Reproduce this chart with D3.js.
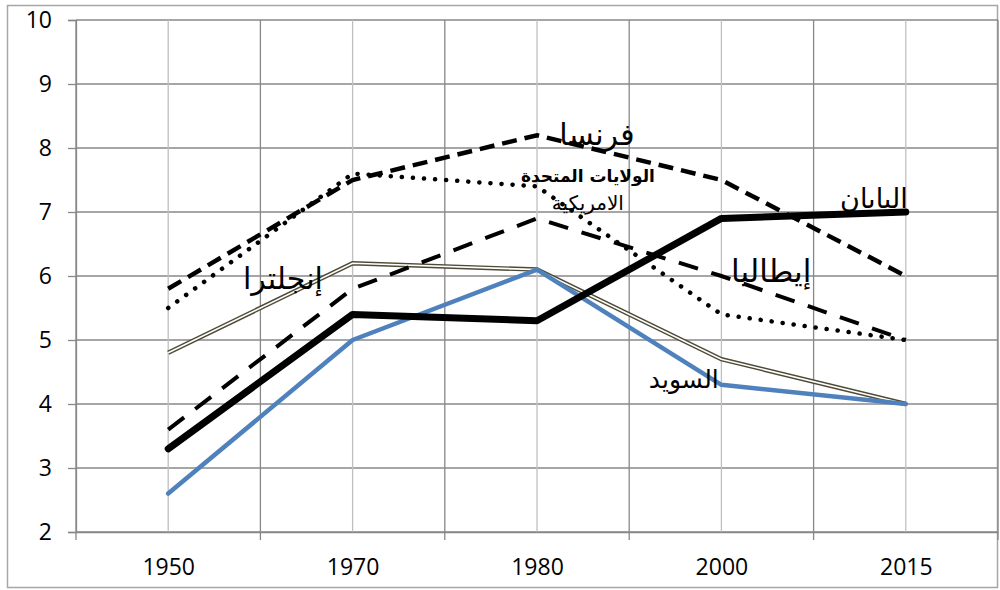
<!DOCTYPE html>
<html>
<head>
<meta charset="utf-8">
<script src="https://cdn.jsdelivr.net/npm/d3@7"></script>
<style>
  body { margin: 0; background: #fff; }
  .tick text { font-family: "Open Sans", sans-serif; font-size: 23px; fill: #000; }
  .lbl { font-family: "DejaVu Sans", sans-serif; fill: #000; }
</style>
</head>
<body>
<div id="chart"></div>
<script>
// data
var years   = ["1950", "1970", "1980", "2000", "2015"];
var france  = [5.8, 7.5, 8.2, 7.5, 6.0];
var usa     = [5.5, 7.6, 7.4, 5.4, 5.0];
var italy   = [3.6, 5.8, 6.9, 6.0, 5.0];
var japan   = [3.3, 5.4, 5.3, 6.9, 7.0];
var england = [4.8, 6.2, 6.1, 4.7, 4.0];
var sweden  = [2.6, 5.0, 6.1, 4.3, 4.0];
var yTicks  = [2, 3, 4, 5, 6, 7, 8, 9, 10];

var width = 1000, height = 590;
var margin = {top: 20, right: 2, bottom: 58, left: 76};

var svg = d3.select("#chart")
  .append("svg")
    .attr("width", width)
    .attr("height", height);

// outer frame
svg.append("rect")
  .attr("x", 7.5).attr("y", 5.5)
  .attr("width", 990).attr("height", 582)
  .attr("fill", "none")
  .attr("stroke", "#a6a6a6")
  .attr("stroke-width", 1.5);

var x = d3.scalePoint().domain(years).range([margin.left, width - margin.right]).padding(0.5);
var y = d3.scaleLinear().domain([2, 10]).range([height - margin.bottom, margin.top]);
var step = x.step();

// x position for a fractional category index (used for the text labels)
function xAt(f) { return x(years[0]) + f * step; }

// horizontal grid
svg.append("g").selectAll("line")
  .data(yTicks)
  .enter().append("line")
    .attr("x1", margin.left).attr("x2", width - margin.right)
    .attr("y1", function(d) { return y(d); })
    .attr("y2", function(d) { return y(d); })
    .attr("stroke", "#888")
    .attr("stroke-width", 1.3);

// light lines through categories
svg.append("g").selectAll("line")
  .data(years)
  .enter().append("line")
    .attr("x1", function(d) { return x(d); })
    .attr("x2", function(d) { return x(d); })
    .attr("y1", y(10)).attr("y2", y(2))
    .attr("stroke", "#c0c0c0")
    .attr("stroke-width", 1.3);

// darker lines between categories, extending as ticks below the axis
var bounds = d3.range(years.length + 1).map(function(i) { return x(years[0]) - step / 2 + i * step; });
svg.append("g").selectAll("line")
  .data(bounds)
  .enter().append("line")
    .attr("x1", function(d) { return d; })
    .attr("x2", function(d) { return d; })
    .attr("y1", y(10)).attr("y2", y(2) + 8)
    .attr("stroke", "#888")
    .attr("stroke-width", 1.3);

// y axis
var yAxis = d3.axisLeft(y).tickValues(yTicks).tickSize(8).tickPadding(16);
var gy = svg.append("g")
  .attr("transform", "translate(" + margin.left + ",0)")
  .call(yAxis);
gy.select(".domain").attr("stroke", "#888").attr("stroke-width", 1.3);
gy.selectAll(".tick line").attr("stroke", "#888").attr("stroke-width", 1.3);

// x axis labels
var xAxis = d3.axisBottom(x).tickSize(0).tickPadding(27);
var gx = svg.append("g")
  .attr("transform", "translate(0," + y(2) + ")")
  .call(xAxis);
gx.select(".domain").attr("stroke", "#888").attr("stroke-width", 1.3);

var line = d3.line()
  .x(function(d, i) { return x(years[i]); })
  .y(function(d) { return y(d); });

// England: double line
svg.append("path").attr("d", line(england))
  .attr("fill", "none").attr("stroke", "#4f4a36").attr("stroke-width", 4.5);
svg.append("path").attr("d", line(england))
  .attr("fill", "none").attr("stroke", "#fff").attr("stroke-width", 1.6);

// Sweden
svg.append("path").attr("d", line(sweden))
  .attr("fill", "none").attr("stroke", "#4f81bd").attr("stroke-width", 4.5)
  .attr("stroke-linejoin", "round").attr("stroke-linecap", "round");

// Italy: long dash
svg.append("path").attr("d", line(italy))
  .attr("fill", "none").attr("stroke", "#000").attr("stroke-width", 4)
  .attr("stroke-dasharray", "20,14");

// Japan: thick solid
svg.append("path").attr("d", line(japan))
  .attr("fill", "none").attr("stroke", "#000").attr("stroke-width", 7)
  .attr("stroke-linejoin", "round").attr("stroke-linecap", "round");

// USA: round dots
svg.append("path").attr("d", line(usa))
  .attr("fill", "none").attr("stroke", "#000").attr("stroke-width", 4.5)
  .attr("stroke-linecap", "round").attr("stroke-dasharray", "0.1,11");

// France: dashed
svg.append("path").attr("d", line(france))
  .attr("fill", "none").attr("stroke", "#000").attr("stroke-width", 4.5)
  .attr("stroke-dasharray", "15,8");

// series names
var labels = [
  {t: "فرنسا", f: 2.325, v: 8.05, s: 30, w: "normal"},
  {t: "الولايات المتحدة", f: 2.276, v: 7.47, s: 17, w: "bold"},
  {t: "الامريكية", f: 2.276, v: 7.03, s: 20, w: "normal"},
  {t: "اليابان", f: 3.827, v: 7.06, s: 27, w: "normal"},
  {t: "إيطاليا", f: 3.27, v: 5.91, s: 31, w: "normal"},
  {t: "إنجلترا", f: 0.622, v: 5.80, s: 30, w: "normal"},
  {t: "السويد", f: 2.796, v: 4.25, s: 25, w: "normal"}
];
svg.append("g").selectAll("text")
  .data(labels)
  .enter().append("text")
    .attr("class", "lbl")
    .attr("x", function(d) { return xAt(d.f); })
    .attr("y", function(d) { return y(d.v); })
    .attr("text-anchor", "middle")
    .attr("direction", "rtl")
    .attr("font-size", function(d) { return d.s; })
    .attr("font-weight", function(d) { return d.w; })
    .text(function(d) { return d.t; });
</script>
</body>
</html>
